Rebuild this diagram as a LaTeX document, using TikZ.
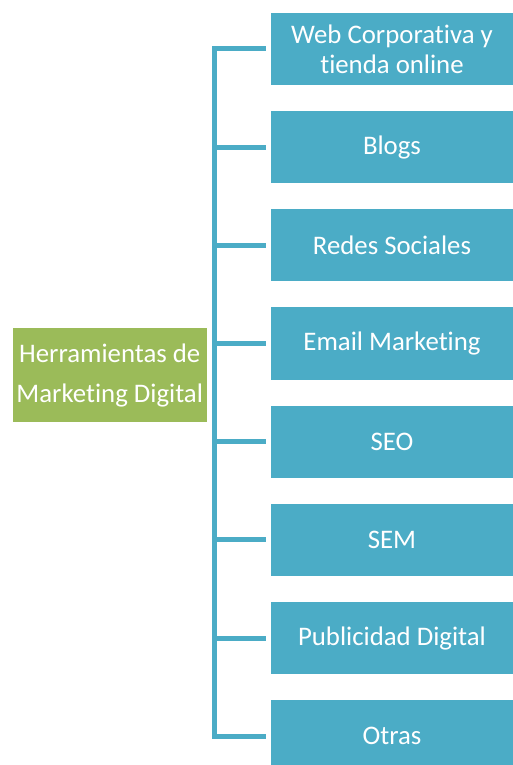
\documentclass[tikz,border=0pt]{standalone}
\usepackage{fontspec}
\setmainfont{Carlito}[RawFeature=-liga]
\usetikzlibrary{positioning}

\definecolor{itemblue}{HTML}{4BACC6}
\definecolor{hubgreen}{HTML}{9BBB59}

\begin{document}
\begin{tikzpicture}[x=1pt,y=1pt]
\tikzstyle{item}=[rectangle,fill=itemblue,text=white,minimum width=242pt,minimum height=72.3pt,inner sep=0pt,align=center,font=\fontsize{26.8}{30}\selectfont]
\tikzstyle{hub}=[rectangle,fill=hubgreen,text=white,minimum width=194pt,minimum height=93.4pt,inner sep=0pt,align=center,font=\fontsize{26.8}{40}\selectfont]
\tikzstyle{link}=[draw=itemblue,line width=5pt]
\useasboundingbox (0,0) rectangle (513,-765);
\node[hub] (hub) at (109.7,-375) {Herramientas de\\Marketing Digital};
\node[item] (b1) at (392,-48.9) {Web Corporativa y\\tienda online};
\node[item,below=25.5pt of b1] (b2) {Blogs};
\node[item,below=25.5pt of b2] (b3) {Redes Sociales};
\node[item,below=25.5pt of b3] (b4) {Email Marketing};
\node[item,below=25.5pt of b4] (b5) {SEO};
\node[item,below=25.5pt of b5] (b6) {SEM};
\node[item,below=25.5pt of b6] (b7) {Publicidad Digital};
\node[item,below=25.5pt of b7] (b8) {Otras};
% spine of the bracket
\coordinate (spine) at ([xshift=8pt]hub.east);
\draw[link] ([xshift=-5pt]b1.west) -| (spine) |- ([xshift=-5pt]b8.west);
\foreach \b in {b2,b3,b4,b5,b6,b7}
  \draw[link] ([xshift=-5pt]\b.west) -- (\b.west -| spine);
\end{tikzpicture}
\end{document}
